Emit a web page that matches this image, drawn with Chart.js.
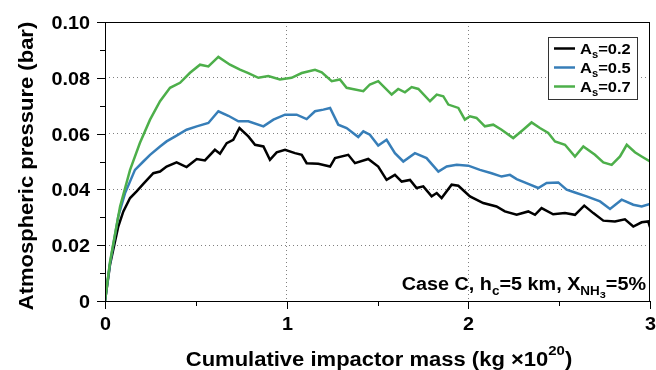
<!DOCTYPE html>
<html>
<head>
<meta charset="utf-8">
<script src="https://cdn.jsdelivr.net/npm/chart.js@4.4.1/dist/chart.umd.min.js"></script>
<style>
  html, body { margin: 0; padding: 0; background: #fff; }
  #wrap { width: 656px; height: 370px; }
</style>
</head>
<body>
<div id="wrap"><canvas id="chart" width="656" height="370"></canvas></div>
<script>
// series labels (A_s values)
var seriesNames = ['0.2', '0.5', '0.7'];
var seriesColors = ['#000000', '#377eb8', '#4daf4a'];

// A_s = 0.2 (black)
var blackX = [0, 0.0275, 0.073, 0.101, 0.138, 0.174, 0.211, 0.266, 0.303, 0.339, 0.394, 0.449, 0.505, 0.550, 0.605, 0.633,
  0.670, 0.706, 0.740, 0.789, 0.826, 0.872, 0.908, 0.945, 0.991, 1.046, 1.083, 1.110, 1.174, 1.239, 1.266, 1.339, 1.376,
  1.449, 1.504, 1.550, 1.596, 1.633, 1.679, 1.715, 1.752, 1.798, 1.826, 1.853, 1.908, 1.945, 2.009, 2.082, 2.155, 2.201,
  2.266, 2.330, 2.367, 2.403, 2.467, 2.532, 2.587, 2.638, 2.688, 2.743, 2.807, 2.862, 2.908, 2.954, 2.990, 3.0];
var blackY = [0, 0.0130, 0.0267, 0.0321, 0.0369, 0.0393, 0.0420, 0.0458, 0.0464, 0.0482, 0.0497, 0.0480, 0.0509, 0.0504, 0.0542, 0.0528,
  0.0566, 0.0578, 0.0620, 0.0590, 0.0560, 0.0554, 0.0506, 0.0533, 0.0542, 0.0530, 0.0524, 0.0494, 0.0492, 0.0482, 0.0512, 0.0524, 0.0494,
  0.0509, 0.0482, 0.0434, 0.0452, 0.0428, 0.0434, 0.0405, 0.0411, 0.0375, 0.0387, 0.0369, 0.0417, 0.0413, 0.0375, 0.0351, 0.0339, 0.0321,
  0.0309, 0.0321, 0.0309, 0.0333, 0.0311, 0.0315, 0.0309, 0.0342, 0.0315, 0.0288, 0.0285, 0.0293, 0.0267, 0.0282, 0.0285, 0.0265];

// A_s = 0.5 (blue)
var blueX = [0, 0.0275, 0.073, 0.110, 0.165, 0.211, 0.248, 0.303, 0.339, 0.394, 0.449, 0.505, 0.569, 0.624, 0.679, 0.734,
  0.789, 0.872, 0.927, 0.991, 1.055, 1.110, 1.156, 1.202, 1.239, 1.284, 1.330, 1.394, 1.422, 1.458, 1.504, 1.550, 1.596,
  1.642, 1.706, 1.770, 1.835, 1.881, 1.936, 2.000, 2.064, 2.128, 2.183, 2.229, 2.266, 2.330, 2.385, 2.431, 2.495, 2.541,
  2.587, 2.651, 2.725, 2.780, 2.844, 2.908, 2.954, 3.0];
var blueY = [0, 0.0135, 0.0303, 0.0386, 0.0470, 0.0500, 0.0524, 0.0554, 0.0572, 0.0593, 0.0614, 0.0626, 0.0638, 0.0680, 0.0664, 0.0644,
  0.0644, 0.0626, 0.0650, 0.0668, 0.0668, 0.0652, 0.0680, 0.0686, 0.0692, 0.0632, 0.0620, 0.0588, 0.0608, 0.0596, 0.0557, 0.0578, 0.0530,
  0.0500, 0.0530, 0.0512, 0.0464, 0.0482, 0.0488, 0.0485, 0.0470, 0.0458, 0.0446, 0.0452, 0.0437, 0.0420, 0.0405, 0.0423, 0.0425, 0.0399,
  0.0389, 0.0375, 0.0357, 0.0330, 0.0363, 0.0345, 0.0339, 0.0348];

// A_s = 0.7 (green)
var greenX = [0, 0.0275, 0.083, 0.138, 0.192, 0.248, 0.303, 0.358, 0.413, 0.468, 0.523, 0.569, 0.624, 0.688, 0.743, 0.789,
  0.844, 0.899, 0.963, 1.027, 1.083, 1.156, 1.193, 1.248, 1.293, 1.330, 1.422, 1.458, 1.504, 1.578, 1.614, 1.651, 1.688,
  1.725, 1.789, 1.826, 1.862, 1.890, 1.945, 1.981, 2.009, 2.045, 2.091, 2.137, 2.183, 2.247, 2.302, 2.348, 2.394, 2.440,
  2.477, 2.532, 2.587, 2.633, 2.697, 2.743, 2.789, 2.835, 2.872, 2.917, 2.954, 3.0];
var greenY = [0, 0.0140, 0.0339, 0.0470, 0.0566, 0.0650, 0.0716, 0.0764, 0.0782, 0.0818, 0.0847, 0.0841, 0.0875, 0.0847, 0.0829, 0.0817,
  0.0800, 0.0806, 0.0794, 0.0800, 0.0817, 0.0829, 0.0820, 0.0788, 0.0794, 0.0764, 0.0752, 0.0776, 0.0788, 0.0740, 0.0760, 0.0748, 0.0767,
  0.0760, 0.0716, 0.0740, 0.0734, 0.0704, 0.0692, 0.0650, 0.0662, 0.0656, 0.0626, 0.0632, 0.0614, 0.0584, 0.0614, 0.0640, 0.0620, 0.0602,
  0.0572, 0.0560, 0.0518, 0.0554, 0.0524, 0.0497, 0.0488, 0.0518, 0.0560, 0.0533, 0.0518, 0.0500];

var FONT = "'Liberation Sans', Arial, Helvetica, sans-serif";
var STRETCH = 1.1; // the original lettering is a bit wider than Arial

function toPoints(xs, ys) {
  return xs.map(function (x, i) { return { x: x, y: ys[i] }; });
}

function partSize(p, size) {
  if (p.s === 'sub3') return size * 0.55;
  return p.s ? size * 0.68 : size;
}

// draw a run of text pieces, some as subscript or superscript
function drawRich(ctx, parts, x, y, size, align) {
  var widths = parts.map(function (p) {
    ctx.font = 'bold ' + partSize(p, size) + 'px ' + FONT;
    return ctx.measureText(p.t).width;
  });
  var total = widths.reduce(function (a, b) { return a + b; }, 0);
  var cx = align === 'right' ? -total : align === 'center' ? -total / 2 : 0;
  ctx.save();
  ctx.translate(x, y);
  ctx.scale(STRETCH, 1);
  ctx.textAlign = 'left';
  ctx.textBaseline = 'alphabetic';
  parts.forEach(function (p, i) {
    ctx.font = 'bold ' + partSize(p, size) + 'px ' + FONT;
    var dy = p.s === 'sub' ? size * 0.28 : p.s === 'sub3' ? size * 0.45 : p.s === 'sup' ? -size * 0.55 : 0;
    ctx.fillText(p.t, cx, dy);
    cx += widths[i];
  });
  ctx.restore();
}

var framePlugin = {
  id: 'frame',
  afterDraw: function (chart) {
    var ctx = chart.ctx;
    var a = chart.chartArea;
    var xs = chart.scales.x, ys = chart.scales.y;
    ctx.save();
    ctx.strokeStyle = '#000';
    ctx.lineWidth = 1;
    ctx.strokeRect(a.left + 0.5, a.top + 0.5, a.right - a.left - 1, a.bottom - a.top);

    // outward ticks, major and minor, with labels on the majors
    ctx.fillStyle = '#000';
    ctx.beginPath();
    ys.ticks.forEach(function (t) {
      var py = Math.round(ys.getPixelForValue(t.value)) + 0.5;
      var n = Math.round(t.value * 100);
      var major = n % 2 === 0;
      ctx.moveTo(a.left, py);
      ctx.lineTo(a.left - (major ? 8 : 5), py);
      if (major) drawRich(ctx, [{ t: n === 0 ? '0' : (n / 100).toFixed(2) }], a.left - 15, py + 6.5, 18, 'right');
    });
    xs.ticks.forEach(function (t) {
      var px = Math.round(xs.getPixelForValue(t.value)) + 0.5;
      var major = Math.abs(t.value - Math.round(t.value)) < 1e-6;
      ctx.moveTo(px, a.bottom);
      ctx.lineTo(px, a.bottom + (major ? 8 : 5));
      if (major) drawRich(ctx, [{ t: String(Math.round(t.value)) }], px, a.bottom + 29, 18, 'center');
    });
    ctx.stroke();

    // legend
    var lx = 548, ly = 37, lw = 89, lh = 62;
    ctx.fillStyle = '#fff';
    ctx.fillRect(lx, ly, lw, lh);
    ctx.strokeStyle = '#333';
    ctx.strokeRect(lx + 0.5, ly + 0.5, lw, lh);
    var rows = [48.5, 67.5, 86.5];
    seriesNames.forEach(function (name, i) {
      ctx.strokeStyle = seriesColors[i];
      ctx.lineWidth = 2.5;
      ctx.beginPath();
      ctx.moveTo(554, rows[i]);
      ctx.lineTo(575, rows[i]);
      ctx.stroke();
      ctx.fillStyle = '#000';
      drawRich(ctx, [{ t: 'A' }, { t: 's', s: 'sub' }, { t: '=' + name }], 580, rows[i] + 5.5, 15, 'left');
    });

    // case annotation
    ctx.fillStyle = '#000';
    drawRich(ctx, [{ t: 'Case C, h' }, { t: 'c', s: 'sub' }, { t: '=5 km, X' }, { t: 'NH', s: 'sub' },
      { t: '3', s: 'sub3' }, { t: '=5%' }], 646, 290, 18, 'right');

    // axis titles
    drawRich(ctx, [{ t: 'Cumulative impactor mass (kg \u00d710' }, { t: '20', s: 'sup' }, { t: ')' }],
      379, 365.5, 20, 'center');
    ctx.translate(33, 166);
    ctx.rotate(-Math.PI / 2);
    drawRich(ctx, [{ t: 'Atmospheric pressure (bar)' }], 0, 0, 20, 'center');
    ctx.restore();
  }
};

var datasets = [greenX, blueX, blackX].map(function (xs, k) {
  var ys = [greenY, blueY, blackY][k];
  var idx = 2 - k;
  return {
    label: 'As=' + seriesNames[idx],
    data: toPoints(xs, ys),
    borderColor: seriesColors[idx],
    borderWidth: 2.5,
    pointRadius: 0,
    tension: 0,
    fill: false
  };
});

new Chart(document.getElementById('chart'), {
  type: 'line',
  data: { datasets: datasets },
  plugins: [framePlugin],
  options: {
    responsive: false,
    animation: false,
    devicePixelRatio: 1,
    layout: { padding: { top: 22, right: 6, left: 0, bottom: 0 } },
    plugins: { legend: { display: false }, tooltip: { enabled: false } },
    scales: {
      x: {
        type: 'linear', min: 0, max: 3,
        afterFit: function (s) { s.height = 69; },
        ticks: { display: false, stepSize: 0.5, autoSkip: false },
        grid: {
          drawTicks: false, lineWidth: 1,
          color: function (c) {
            var v = c.tick ? c.tick.value : 0;
            return (Math.abs(v - 1) < 1e-6 || Math.abs(v - 2) < 1e-6) ? '#808080' : 'rgba(0,0,0,0)';
          }
        },
        border: { display: false, dash: [1, 3] }
      },
      y: {
        min: 0, max: 0.1,
        afterFit: function (s) { s.width = 105; },
        ticks: { display: false, stepSize: 0.01, autoSkip: false },
        grid: {
          drawTicks: false, lineWidth: 1,
          color: function (c) {
            var n = c.tick ? Math.round(c.tick.value * 100) : 0;
            return (n > 0 && n < 10 && n % 2 === 0) ? '#808080' : 'rgba(0,0,0,0)';
          }
        },
        border: { display: false, dash: [1, 3] }
      }
    }
  }
});
</script>
</body>
</html>
